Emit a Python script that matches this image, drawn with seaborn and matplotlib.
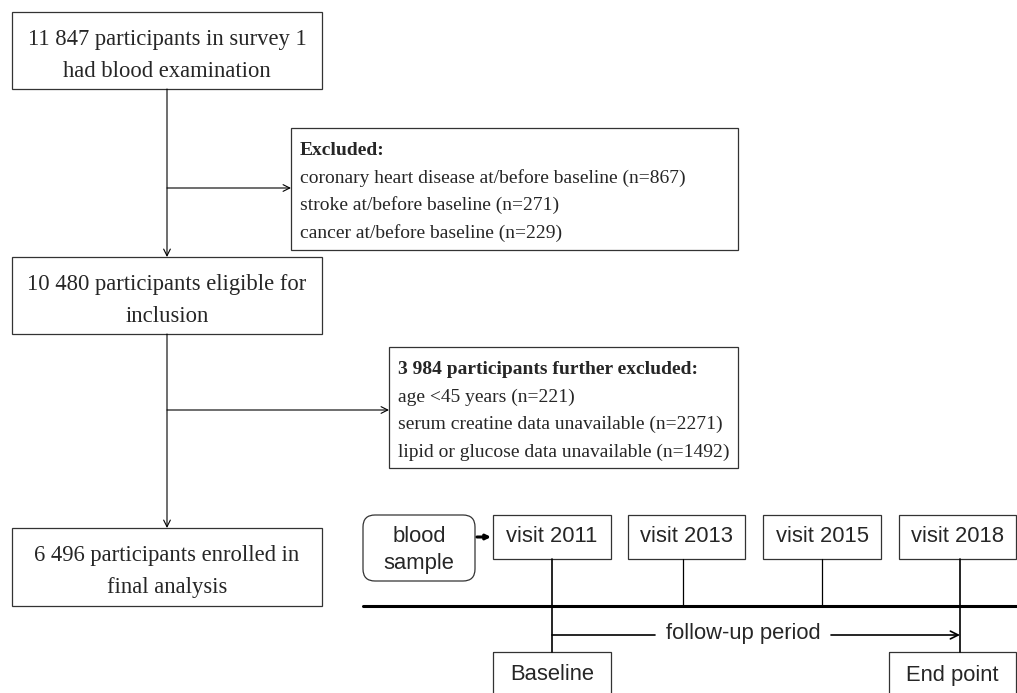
import matplotlib
matplotlib.use("Agg")
import matplotlib.pyplot as plt
from matplotlib.patches import FancyBboxPatch, Rectangle
import seaborn as sns

sns.set_style("white")
plt.rcParams["font.family"] = ["Liberation Serif", "DejaVu Serif"]

# ---- data -----------------------------------------------------------------
flow_counts = [11847, 10480, 6496]
flow_texts = [
    ["{} participants in survey 1", "had blood examination"],
    ["{} participants eligible for", "inclusion"],
    ["{} participants enrolled in", "final analysis"],
]
excl1_title = "Excluded:"
excl1_reasons = ["coronary heart disease at/before baseline", "stroke at/before baseline",
                 "cancer at/before baseline"]
excl1_counts = [867, 271, 229]
excl2_total = 3984
excl2_reasons = ["age <45 years", "serum creatine data unavailable", "lipid or glucose data unavailable"]
excl2_counts = [221, 2271, 1492]
visit_years = [2011, 2013, 2015, 2018]
timeline_ends = ["Baseline", "End point"]


def fmt(n):
    return f"{n:,}".replace(",", " ")


# ---- layout (pixels, y down) ---------------------------------------------
W, H = 1017, 693
fig = plt.figure(figsize=(W / 100, H / 100), dpi=100)
ax = fig.add_axes([0, 0, 1, 1])
ax.set_xlim(0, W)
ax.set_ylim(H, 0)
ax.axis("off")

edge = "#333333"
lw_box = 0.9
serif = ["Liberation Serif", "DejaVu Serif"]
sans = ["Liberation Sans", "DejaVu Sans"]
fs_main = 16.3
fs_excl = 14.0
fs_tl = 15.8


def box(x0, y0, x1, y1, lw=lw_box):
    ax.add_patch(Rectangle((x0, y0), x1 - x0, y1 - y0, fill=False, ec=edge, lw=lw))


def arrow(x0, y0, x1, y1, style="->", lw=0.8, ms=12):
    ax.annotate("", xy=(x1, y1), xytext=(x0, y0),
                arrowprops=dict(arrowstyle=style, lw=lw, color="black",
                                shrinkA=0, shrinkB=0, mutation_scale=ms))


# main flow boxes
flow_boxes = [(12, 12, 322, 89), (12, 257, 322, 334), (12, 528, 322, 606)]
for (x0, y0, x1, y1), n, lines in zip(flow_boxes, flow_counts, flow_texts):
    box(x0, y0, x1, y1)
    cx = (x0 + x1) / 2
    ax.text(cx, y0 + 33, lines[0].format(fmt(n)), ha="center", va="baseline",
            fontsize=fs_main, family=serif)
    ax.text(cx, y0 + 65, lines[1], ha="center", va="baseline",
            fontsize=fs_main, family=serif)

# exclusion boxes
def excl_box(x0, y0, x1, y1, title, reasons, counts):
    box(x0, y0, x1, y1)
    tx = x0 + 9
    ax.text(tx, y0 + 27, title, ha="left", va="baseline", fontsize=fs_excl,
            family=serif, fontweight="bold")
    for i, (r, c) in enumerate(zip(reasons, counts)):
        ax.text(tx, y0 + 27 + 27.5 * (i + 1), f"{r} (n={c})", ha="left",
                va="baseline", fontsize=fs_excl, family=serif)


excl_box(291, 128, 738, 250, excl1_title, excl1_reasons, excl1_counts)
excl_box(389, 347, 738, 468, f"{fmt(excl2_total)} participants further excluded:",
         excl2_reasons, excl2_counts)

# connectors
arrow(167, 89, 167, 257)
arrow(167, 334, 167, 528)
arrow(167, 188, 291, 188)
arrow(167, 410, 389, 410)

# ---- timeline --------------------------------------------------------------
ax.add_patch(FancyBboxPatch((363, 515), 112, 66, boxstyle="round,pad=0,rounding_size=12",
                            fill=False, ec=edge, lw=lw_box))
ax.text(419, 536, "blood", ha="center", va="center", fontsize=fs_tl, family=sans)
ax.text(419, 563, "sample", ha="center", va="center", fontsize=fs_tl, family=sans)
arrow(477, 537, 491, 537, style="-|>", lw=2.2, ms=7)

visit_boxes = [(493, 611), (628, 745), (763, 881), (899, 1016)]
visit_x = [552, 683, 822, 960]
for (x0, x1), yr in zip(visit_boxes, visit_years):
    box(x0, 515, x1, 559)
    ax.text((x0 + x1) / 2, 537, f"visit {yr}", ha="center", va="center",
            fontsize=fs_tl, family=sans)

# drop lines from visits
for i, x in enumerate(visit_x):
    y_end = 652 if i in (0, len(visit_x) - 1) else 606
    ax.plot([x, x], [559, y_end], color="black", lw=1.2 if y_end == 652 else 0.9)

# main time axis
ax.plot([363, W], [606, 606], color="black", lw=2.2)

# follow-up arrow
ax.plot([552, 655], [635, 635], color="black", lw=1.2)
arrow(831, 635, 960, 635, lw=1.2, ms=14)
ax.text(743, 633, "follow-up period", ha="center", va="center", fontsize=fs_tl, family=sans)

# baseline / end point boxes
box(493, 652, 611, 700)
box(889, 652, 1016, 700)
ax.text(552, 675, timeline_ends[0], ha="center", va="center", fontsize=fs_tl, family=sans)
ax.text(952, 675, timeline_ends[1], ha="center", va="center", fontsize=fs_tl, family=sans)

fig.savefig("out.png", dpi=100)
